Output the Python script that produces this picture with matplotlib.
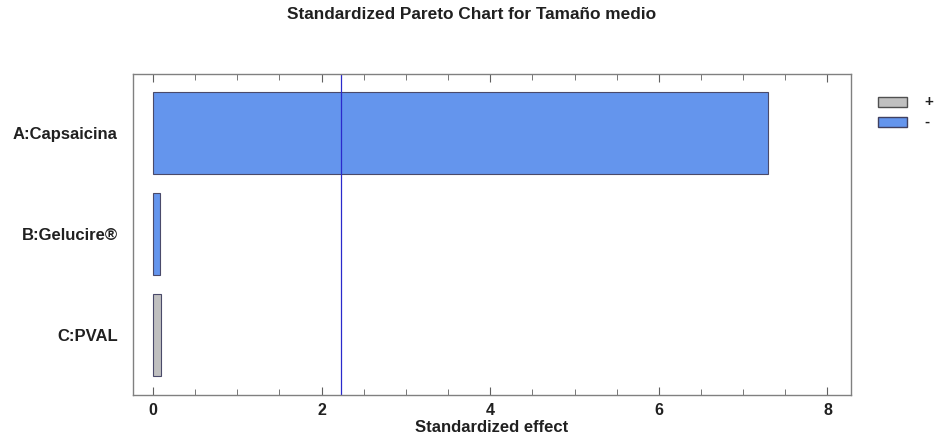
import matplotlib
matplotlib.use("Agg")
import matplotlib.pyplot as plt
from matplotlib.patches import Rectangle
from matplotlib.ticker import MultipleLocator

plt.rcParams['font.family'] = ['Liberation Sans', 'DejaVu Sans']

factors = ["C:PVAL", "B:Gelucire®", "A:Capsaicina"]
effects = [0.09, 0.08, 7.30]
signs = ["+", "-", "-"]
critical = 2.228
title = "Standardized Pareto Chart for Tamaño medio"
xlabel = "Standardized effect"
legend_labels = ["+", "-"]

col = {"+": "#c0c0c0", "-": "#6495ed"}
edge = {"+": "#505050", "-": "#404060"}

W, H = 943, 445
fig = plt.figure(figsize=(W / 100, H / 100), dpi=100)
ax = fig.add_axes([0.141, 0.1124, 0.7615, 0.7213])

ypos = list(range(len(factors)))
ax.barh(ypos, effects, height=0.81, color=[col[s] for s in signs],
        edgecolor="#4a4a6a", linewidth=0.8)
ax.axvline(critical, color="#2a2acc", linewidth=0.9)

ax.set_xlim(-0.237, 8.28)
ax.set_ylim(-0.594, 2.584)
ax.set_yticks(ypos)
ax.set_yticklabels(factors, fontsize=12, fontweight="bold", color="#202020")
ax.set_xticks([0, 2, 4, 6, 8])
ax.set_xticklabels(["0", "2", "4", "6", "8"], fontsize=11.5, fontweight="bold",
                   color="#202020")
ax.xaxis.set_minor_locator(MultipleLocator(0.5))
ax.tick_params(axis="x", which="both", top=True, direction="in", length=4,
               color="#606060")
ax.tick_params(axis="x", which="major", length=6, pad=6)
ax.tick_params(axis="y", length=0, pad=11)
for s in ax.spines.values():
    s.set_color("#808080")
    s.set_linewidth(1.0)
ax.set_xlabel(xlabel, fontsize=12, fontweight="bold", labelpad=1, color="#202020")

fig.suptitle(title, fontsize=12.4, fontweight="bold", x=0.5, y=0.985, color="#202020")

# legend drawn in figure pixels
for i, lab in enumerate(legend_labels):
    top = 97 + i * 20
    fig.add_artist(Rectangle((878 / W, 1 - (top + 10) / H), 29 / W, 10 / H,
                             transform=fig.transFigure, facecolor=col[lab],
                             edgecolor=edge[lab], linewidth=1.0))
    fig.text(924 / W, 1 - (top + 5) / H, lab, fontsize=11, fontweight="bold",
             ha="left", va="center", color="#202020")

fig.savefig("out.png", dpi=100)
